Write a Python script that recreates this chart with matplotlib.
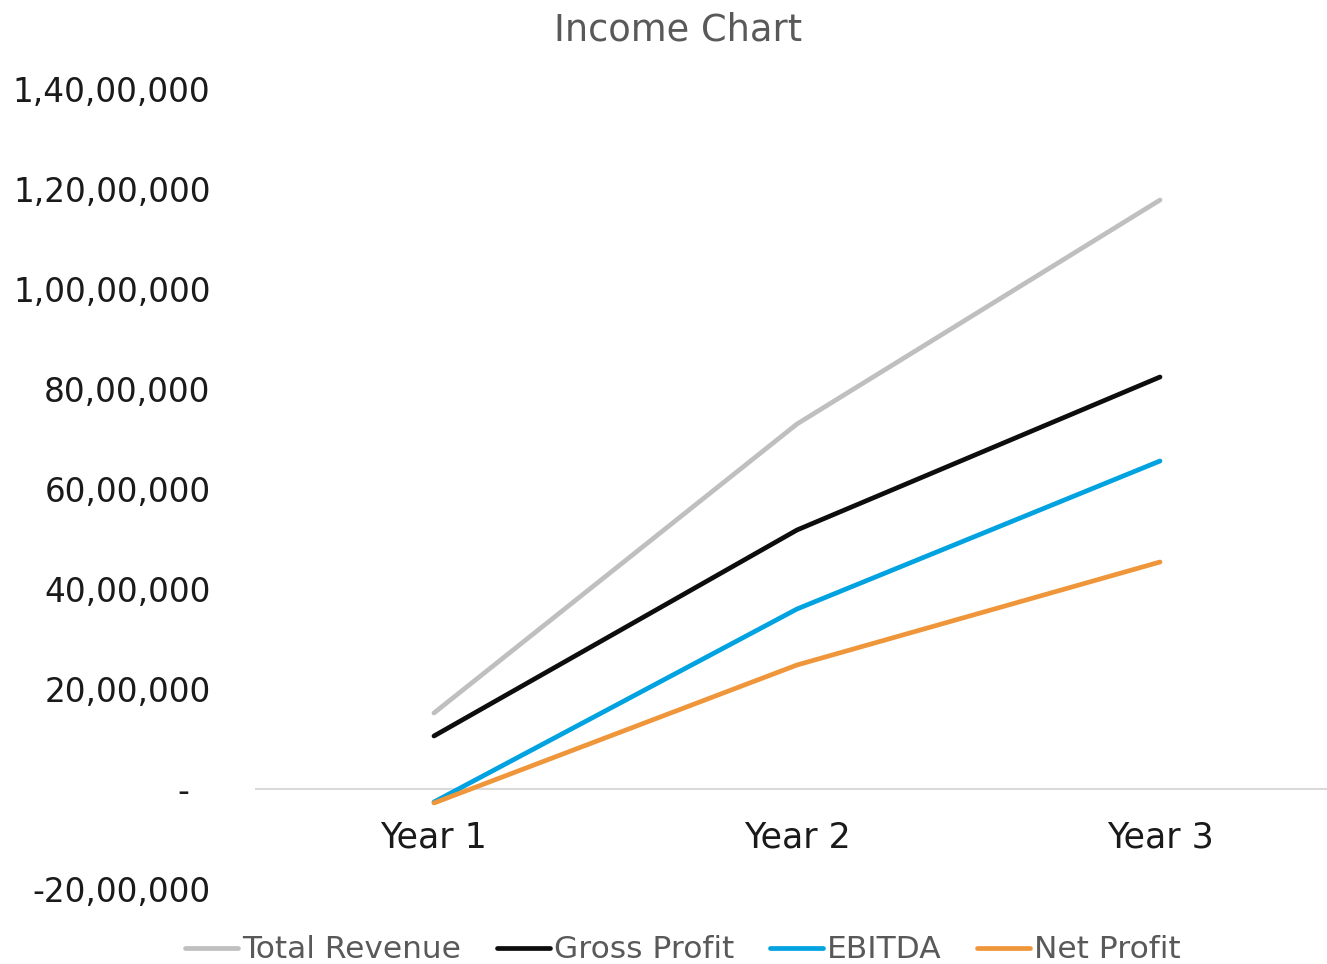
import matplotlib
matplotlib.use("Agg")
import matplotlib.pyplot as plt
from matplotlib.ticker import FixedLocator, FixedFormatter

categories = ["Year 1", "Year 2", "Year 3"]
total_revenue = [1520000, 7300000, 11780000]
gross_profit = [1060000, 5180000, 8240000]
ebitda = [-260000, 3600000, 6560000]
net_profit = [-280000, 2480000, 4540000]

y_ticks = [-2000000, 0, 2000000, 4000000, 6000000, 8000000, 10000000, 12000000, 14000000]
y_labels = ["-20,00,000", "-  ", "20,00,000", "40,00,000", "60,00,000", "80,00,000",
            "1,00,00,000", "1,20,00,000", "1,40,00,000"]

series = [
    ("Total Revenue", total_revenue, "#BFBFBF"),
    ("Gross Profit", gross_profit, "#0D0D0D"),
    ("EBITDA", ebitda, "#00A2E0"),
    ("Net Profit", net_profit, "#F0963A"),
]

plt.rcParams["font.family"] = ["DejaVu Sans"]
W, H = 1327, 964
fig = plt.figure(figsize=(W / 100, H / 100), dpi=100)
left, right = 255 / W, 1.0
bottom, top = 1 - 889 / H, 1 - 89 / H
ax = fig.add_axes([left, bottom, right - left, top - bottom])

x = list(range(len(categories)))
for name, vals, col in series:
    ax.plot(x, vals, color=col, lw=3.4, solid_capstyle="round", label=name, zorder=3)

ax.axhline(0, color="#D9D9D9", lw=1.5, zorder=1)
ax.set_xlim(-0.493, 2.46)
ax.set_ylim(-2000000, 14000000)
ax.yaxis.set_major_locator(FixedLocator(y_ticks))
ax.yaxis.set_major_formatter(FixedFormatter(y_labels))
ax.tick_params(axis="y", length=0, pad=32, labelsize=23.5, labelcolor="#1a1a1a")
ax.set_xticks([])
for sp in ax.spines.values():
    sp.set_visible(False)

for i, c in enumerate(categories):
    ax.text(i, -980000, c, ha="center", va="center", fontsize=25, color="#1a1a1a")

fig.text(678 / W, 1 - 30 / H, "Income Chart", ha="center", va="center", fontsize=26.5, color="#595959")

leg = fig.legend(loc="center", bbox_to_anchor=(683 / W, 1 - 950 / H), ncol=4, frameon=False,
                 fontsize=22.5, handlelength=1.7, handletextpad=0.12, columnspacing=1.15,
                 labelcolor="#595959")
for h in leg.legend_handles:
    h.set_linewidth(3.4)

fig.savefig("out.png", dpi=100)
